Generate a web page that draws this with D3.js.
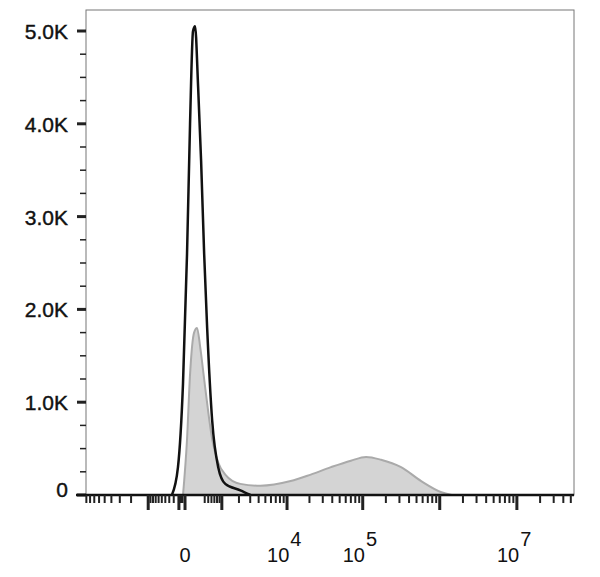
<!DOCTYPE html>
<html><head><meta charset="utf-8">
<script src="https://cdn.jsdelivr.net/npm/d3@7"></script>
<style>body{margin:0;background:#fff}</style>
</head><body>
<svg width="600" height="577"></svg>
<script>
// x values (fluorescence), y counts in thousands
const blackX = [-239, -117, -31, 31, 81, 135, 175, 239, 308, 385, 468, 625, 846, 1162, 2107, 3020];
const blackY = [0, 0.3, 1.2, 2.6, 4.0, 5.0, 5.05, 4.4, 3.6, 2.6, 1.8, 0.8, 0.3, 0.12, 0.05, 0];
const grayX = [-31, 31, 81, 155, 216, 285, 385, 498, 625, 846, 1162, 2107, 4250, 11190, 20800, 38400, 70100, 110700, 173000, 315000, 575000, 1050000, 1430000];
const grayY = [0, 0.6, 1.3, 1.75, 1.8, 1.6, 1.25, 0.9, 0.6, 0.35, 0.22, 0.12, 0.1, 0.15, 0.22, 0.3, 0.37, 0.41, 0.38, 0.3, 0.15, 0.03, 0];
const yTicks = [0, 1, 2, 3, 4, 5];
const yLabels = ["0", "1.0K", "2.0K", "3.0K", "4.0K", "5.0K"];
const xLabels = [{v: 0, t: "0"}, {v: 1e4, e: "4"}, {v: 1e5, e: "5"}, {v: 1e7, e: "7"}];

const svg = d3.select("svg");
const m = {l: 86, r: 574, t: 10, b: 495};
const x = d3.scaleSymlog().constant(500).domain([-9100, 5.5e7]).range([m.l, m.r]);
const y = d3.scaleLinear().domain([0, 5]).range([m.b, 31]);

// frame
svg.append("rect").attr("x", m.l).attr("y", m.t).attr("width", m.r - m.l).attr("height", m.b - m.t)
  .attr("fill", "none").attr("stroke", "#777").attr("stroke-width", 1);

const gray = grayX.map((v, i) => [v, grayY[i]]);
const black = blackX.map((v, i) => [v, blackY[i]]);
svg.append("path").datum(gray)
  .attr("d", d3.area().x(d => x(d[0])).y0(y(0)).y1(d => y(d[1])).curve(d3.curveMonotoneX))
  .attr("fill", "#d4d4d4").attr("stroke", "#aaa").attr("stroke-width", 2);
svg.append("path").datum(black)
  .attr("d", d3.line().x(d => x(d[0])).y(d => y(d[1])).curve(d3.curveMonotoneX))
  .attr("fill", "none").attr("stroke", "#111").attr("stroke-width", 2.5);

// y ticks
const yMinor = d3.range(0, 5.01, 0.25);
svg.append("g").selectAll("line").data(yMinor).join("line")
  .attr("x1", d => d % 1 === 0 ? m.l - 9 : m.l - 6).attr("x2", m.l)
  .attr("y1", d => y(d)).attr("y2", d => y(d))
  .attr("stroke", "#222").attr("stroke-width", d => d % 1 === 0 ? 3 : 1.5);
svg.append("g").selectAll("text").data(yTicks).join("text")
  .attr("x", m.l - 18).attr("y", d => y(d) + (d === 0 ? 2 : 8)).attr("text-anchor", "end")
  .attr("font-family", "Liberation Sans, Arial, sans-serif").attr("font-size", 21).attr("fill", "#111")
  .attr("stroke", "#111").attr("stroke-width", 0.4)
  .text((d, i) => yLabels[i]);

// x axis line
svg.append("line").attr("x1", m.l - 10).attr("x2", m.r).attr("y1", m.b).attr("y2", m.b)
  .attr("stroke", "#111").attr("stroke-width", 2.5);

// x ticks (logicle-style)
const ticks = [];
for (let e = 1; e <= 7; e++) for (let k = 1; k <= 9; k++) {
  const v = k * Math.pow(10, e);
  if (v < 5.5e7 && v > 300) ticks.push({v, major: k === 1});
  if (-v > -9100 && v > 30) ticks.push({v: -v, major: k === 1});
}
ticks.push({v: 0, major: true});
svg.append("g").selectAll("line").data(ticks).join("line")
  .attr("x1", d => x(d.v)).attr("x2", d => x(d.v))
  .attr("y1", m.b).attr("y2", d => m.b + (d.major ? 15 : 8))
  .attr("stroke", "#222").attr("stroke-width", d => d.major ? 3 : 2);

const lab = svg.append("g").attr("font-family", "Liberation Sans, Arial, sans-serif").attr("fill", "#111");
xLabels.forEach(d => {
  const t = lab.append("text").attr("x", x(d.v)).attr("y", 562).attr("font-size", 20)
    .attr("text-anchor", d.t ? "middle" : "start").attr("dx", d.t ? 0 : -20);
  if (d.t) t.text(d.t);
  else { t.append("tspan").text("10"); t.append("tspan").attr("dy", -16).attr("dx", 1).text(d.e); }
});
</script>
</body></html>
